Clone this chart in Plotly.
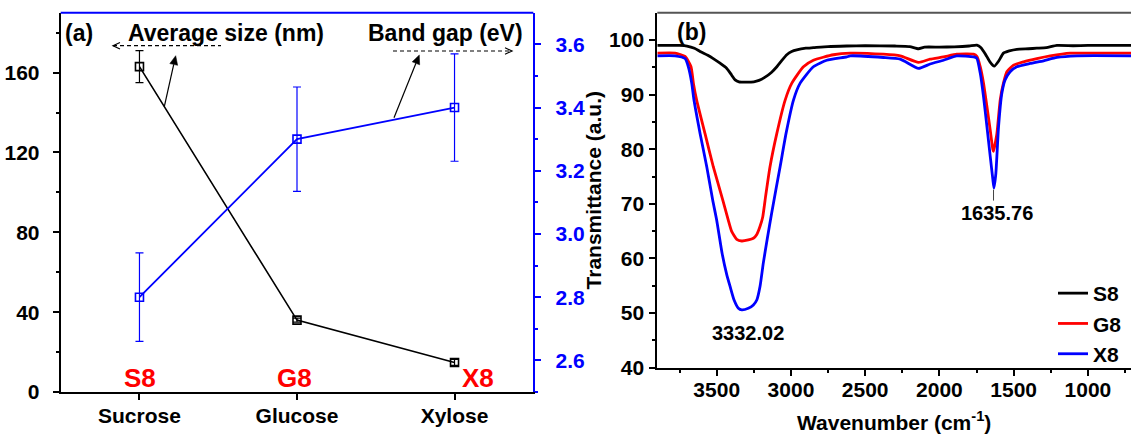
import math
import plotly.graph_objects as go

W, H = 1131, 434

# ---------------- Panel (a) data ----------------
categories = ["Sucrose", "Glucose", "Xylose"]
sample_labels = ["S8", "G8", "X8"]
avg_size_nm = [163, 36, 14.8]
avg_size_err = [8, 1, 1.5]
band_gap_ev = [2.80, 3.30, 3.40]
band_gap_err = [0.14, 0.165, 0.17]
size_ticks = [0, 40, 80, 120, 160]
gap_ticks = [2.6, 2.8, 3.0, 3.2, 3.4, 3.6]

# ---------------- Panel (b) data (FTIR) ----------------
wn_s8 = [3900, 3750, 3700, 3650, 3612, 3560, 3523, 3480, 3432, 3400, 3376, 3350, 3300,
         3250, 3215, 3174, 3130, 3095, 3060, 3028, 2995, 2961, 2900, 2849, 2750, 2624,
         2500, 2300, 2200, 2141, 2100, 2000, 1900, 1800, 1748, 1720, 1690, 1660, 1631,
         1600, 1569, 1530, 1479, 1400, 1344, 1280, 1209, 1100, 1000, 850, 710]
t_s8 = [99.0, 99.0, 98.9, 98.5, 97.9, 97.2, 96.6, 95.8, 94.8, 93.6, 92.7, 92.35, 92.3,
        92.35, 92.6, 93.2, 94.1, 95.1, 96.3, 97.3, 97.9, 98.2, 98.5, 98.6, 98.8, 98.9,
        98.95, 98.9, 98.8, 98.4, 98.7, 98.7, 98.75, 98.9, 99.05, 98.6, 97.4, 96.0, 95.2,
        96.2, 97.6, 98.0, 98.3, 98.4, 98.5, 98.6, 99.0, 98.95, 99.0, 99.0, 99.0]

wn_g8 = [3900, 3780, 3713, 3673, 3657, 3635, 3579, 3523, 3459, 3422, 3400, 3365, 3331,
         3287, 3253, 3230, 3208, 3190, 3170, 3141, 3095, 3039, 2994, 2916, 2849, 2714,
         2601, 2377, 2264, 2141, 2063, 1973, 1883, 1770, 1748, 1725, 1703, 1680, 1658,
         1640, 1636, 1613, 1591, 1569, 1546, 1501, 1434, 1344, 1254, 1119, 1030, 710]
t_g8 = [97.6, 97.6, 97.0, 95.1, 92.1, 89.0, 82.9, 76.8, 70.7, 67.0, 65.0, 63.5, 63.2,
        63.4, 63.7, 64.4, 65.9, 67.6, 71.5, 76.8, 82.9, 89.0, 92.1, 95.1, 96.3, 97.3,
        97.6, 97.4, 97.1, 95.9, 96.5, 96.9, 97.4, 97.4, 97.0, 95.1, 92.1, 87.8, 83.5,
        79.9, 79.6, 82.9, 89.0, 92.1, 94.2, 95.4, 96.0, 96.6, 97.1, 97.6, 97.6, 97.6]

wn_x8 = [3900, 3780, 3713, 3691, 3668, 3653, 3612, 3567, 3527, 3500, 3464, 3432, 3410,
         3383, 3354, 3331, 3287, 3253, 3230, 3208, 3186, 3160, 3130, 3073, 3033,
         2983, 2938, 2849, 2759, 2624, 2601, 2377, 2264, 2141, 2063, 1973, 1883, 1770,
         1748, 1725, 1703, 1680, 1658, 1640, 1633, 1620, 1602, 1580, 1558, 1524, 1479,
         1389, 1299, 1209, 1074, 710]
t_x8 = [97.1, 97.1, 96.6, 95.1, 92.1, 89.0, 82.9, 76.8, 70.7, 67.0, 61.0, 57.0, 54.9,
        52.4, 50.9, 50.6, 50.9, 51.5, 52.4, 54.9, 59.2, 63.5, 68.3, 76.8, 82.9,
        89.0, 92.1, 95.1, 96.3, 96.9, 97.1, 96.8, 96.5, 94.8, 95.6, 96.3, 97.1, 96.9,
        96.65, 93.9, 89.6, 84.1, 78.7, 74.4, 72.9, 75.6, 84.1, 90.2, 92.7, 94.2, 95.1,
        95.7, 96.2, 96.8, 97.1, 97.1]

spectra = [("S8", wn_s8, t_s8, "#000000"),
           ("G8", wn_g8, t_g8, "#ff0000"),
           ("X8", wn_x8, t_x8, "#0000ff")]
peak_labels = [("3332.02", 3332.02), ("1635.76", 1635.76)]
wn_ticks = [1000, 1500, 2000, 2500, 3000, 3500]
t_ticks = [40, 50, 60, 70, 80, 90, 100]

FONT = "Liberation Sans, Arial, sans-serif"
BOLD = dict(family=FONT, size=21, color="black", weight="bold")


def pxx(x):
    return x / W


def pxy(y):
    return 1 - y / H


fig = go.Figure()

# Panel (a)
idx = list(range(len(categories)))
fig.add_trace(go.Scatter(
    x=idx, y=avg_size_nm, mode="lines+markers", xaxis="x", yaxis="y",
    line=dict(color="black", width=1.6),
    marker=dict(symbol="square-open", size=8, color="black", line=dict(width=1.6, color="black")),
    error_y=dict(type="data", array=avg_size_err, visible=True, color="black", thickness=1.2, width=4),
    showlegend=False, cliponaxis=False))
fig.add_trace(go.Scatter(
    x=idx, y=band_gap_ev, mode="lines+markers", xaxis="x", yaxis="y2",
    line=dict(color="#0000ff", width=1.8),
    marker=dict(symbol="square-open", size=8, color="#0000ff", line=dict(width=1.6, color="#0000ff")),
    error_y=dict(type="data", array=band_gap_err, visible=True, color="#0000ff", thickness=1.2, width=4),
    showlegend=False, cliponaxis=False))

# Panel (b)
for name, wn, t, col in spectra:
    fig.add_trace(go.Scatter(
        x=wn, y=t, mode="lines", name=name, xaxis="x2", yaxis="y3",
        line=dict(color=col, width=2.8, shape="spline", smoothing=0.5)))

axis_common = dict(showline=True, linewidth=2, ticks="outside", ticklen=6, tickwidth=1.5,
                   showgrid=False, zeroline=False, automargin=False, tickfont=BOLD,
                   linecolor="black", tickcolor="black")

fig.update_layout(
    width=W, height=H, template="none",
    margin=dict(l=0, r=0, t=0, b=0),
    paper_bgcolor="white", plot_bgcolor="white",
    font=dict(family=FONT, color="black"),
    xaxis=dict(axis_common, domain=[60.7 / W, 533.3 / W], range=[-0.5, 2.5],
               tickmode="array", tickvals=idx, ticktext=categories, anchor="y",
               ticklabelstandoff=-2),
    yaxis=dict(axis_common, domain=[pxy(392), pxy(12.7)], range=[0, 190],
               tickmode="array", tickvals=size_ticks, anchor="x", ticklabelstandoff=9,
               minor=dict(tickvals=[20, 60, 100, 140, 180], ticklen=3, tickwidth=1.5,
                          ticks="outside", tickcolor="black")),
    yaxis2=dict(axis_common, overlaying="y", side="right", anchor="x",
                range=[2.5, 3.7], tickmode="array", tickvals=gap_ticks, tickformat=".1f",
                linecolor="#0000ff", tickcolor="#0000ff", ticklabelstandoff=10,
                tickfont=dict(BOLD, color="#0000ff"),
                minor=dict(tickvals=[2.5, 2.7, 2.9, 3.1, 3.3, 3.5], ticklen=3, tickwidth=1.5,
                           ticks="outside", tickcolor="#0000ff")),
    xaxis2=dict(axis_common, domain=[657.3 / W, 1.0], range=[3900, 710],
                tickmode="array", tickvals=wn_ticks, anchor="y3", ticklabelstandoff=-4,
                title=dict(text="Wavenumber (cm<sup>-1</sup>)", font=BOLD, standoff=16),
                minor=dict(tickvals=[750, 1250, 1750, 2250, 2750, 3250, 3750], ticklen=3,
                           tickwidth=1.5, ticks="outside", tickcolor="black")),
    yaxis3=dict(axis_common, domain=[pxy(367.7), pxy(12.7)], range=[40, 105],
                tickmode="array", tickvals=t_ticks, anchor="x2", ticklabelstandoff=1,
                title=dict(text="Transmittance (a.u.)", font=BOLD, standoff=2),
                minor=dict(tickvals=[45, 55, 65, 75, 85, 95], ticklen=3, tickwidth=1.5,
                           ticks="outside", tickcolor="black")),
    legend=dict(x=pxx(1053), y=pxy(273), xanchor="left", yanchor="top",
                font=BOLD, bgcolor="rgba(0,0,0,0)", tracegroupgap=0, itemwidth=30),
)


def arrow_shapes(tail, head, hl=9.0, hw=4.0, color="black", width=1.2):
    """Solid pointer line with filled triangular head (pixel positions -> paper)."""
    dx, dy = head[0] - tail[0], head[1] - tail[1]
    L = math.hypot(dx, dy)
    ux, uy = dx / L, dy / L
    bx, by = head[0] - hl * ux, head[1] - hl * uy
    nx, ny = -uy, ux
    p1 = (bx + hw * nx, by + hw * ny)
    p2 = (bx - hw * nx, by - hw * ny)
    line = dict(type="line", xref="paper", yref="paper",
                x0=pxx(tail[0]), y0=pxy(tail[1]), x1=pxx(bx), y1=pxy(by),
                line=dict(color=color, width=width))
    tri = dict(type="path", xref="paper", yref="paper",
               path=(f"M {pxx(head[0])},{pxy(head[1])} L {pxx(p1[0])},{pxy(p1[1])} "
                     f"L {pxx(p2[0])},{pxy(p2[1])} Z"),
               fillcolor=color, line=dict(color=color, width=0.5))
    return [line, tri]


shapes = [
    # top frame of (a) in blue, of (b) in grey
    dict(type="line", xref="x domain", yref="y domain", x0=0, x1=1, y0=1, y1=1,
         line=dict(color="#0000ff", width=2)),
    dict(type="line", xref="x2 domain", yref="y3 domain", x0=0, x1=1, y0=1, y1=1,
         line=dict(color="#555555", width=2)),
    # dashed pointer lines
    dict(type="line", xref="paper", yref="paper", x0=pxx(113), x1=pxx(221), y0=pxy(45.7), y1=pxy(45.7),
         line=dict(color="black", width=1.2, dash="4px,3px")),
    dict(type="path", xref="paper", yref="paper",
         path=f"M {pxx(120)},{pxy(42.5)} L {pxx(113)},{pxy(45.7)} L {pxx(120)},{pxy(49)}",
         line=dict(color="black", width=1.2)),
    dict(type="line", xref="paper", yref="paper", x0=pxx(393), x1=pxx(512), y0=pxy(51), y1=pxy(51),
         line=dict(color="black", width=1.2, dash="4px,3px")),
    dict(type="path", xref="paper", yref="paper",
         path=f"M {pxx(505)},{pxy(47.8)} L {pxx(512)},{pxy(51)} L {pxx(505)},{pxy(54.2)}",
         line=dict(color="black", width=1.2)),
    # marker below the 1635 peak
    dict(type="line", xref="x2", yref="y3", x0=1635.76, x1=1635.76, y0=72.6, y1=70.6,
         line=dict(color="#444444", width=1)),
]
shapes += arrow_shapes((164.3, 106.7), (175.7, 55.7))
shapes += arrow_shapes((394, 117.7), (419.3, 55))
fig.update_layout(shapes=shapes)

ann = [
    dict(text="(a)", x=pxx(63), y=pxy(33), xanchor="left", font=dict(BOLD, size=23)),
    dict(text="Average size (nm)", x=pxx(225.5), y=pxy(33), xanchor="center", font=dict(BOLD, size=23)),
    dict(text="Band gap (eV)", x=pxx(445), y=pxy(33), xanchor="center", font=dict(BOLD, size=23)),
    dict(text="(b)", x=pxx(675), y=pxy(31.7), xanchor="left", font=dict(BOLD, size=23)),
]
for lab, cx in zip(sample_labels, [140.3, 294.2, 478.3]):
    ann.append(dict(text=lab, x=pxx(cx), y=pxy(378), xanchor="center",
                    font=dict(BOLD, size=26, color="#ff0000")))
for (lab, wnv), (cx, cy) in zip(peak_labels, [(748.3, 333), (996.7, 212.7)]):
    ann.append(dict(text=lab, x=pxx(cx), y=pxy(cy), xanchor="center", font=dict(BOLD, size=20)))

for a in ann:
    a.update(xref="paper", yref="paper", yanchor="middle", showarrow=False)

fig.update_layout(annotations=ann)

fig.write_html("out.html")
